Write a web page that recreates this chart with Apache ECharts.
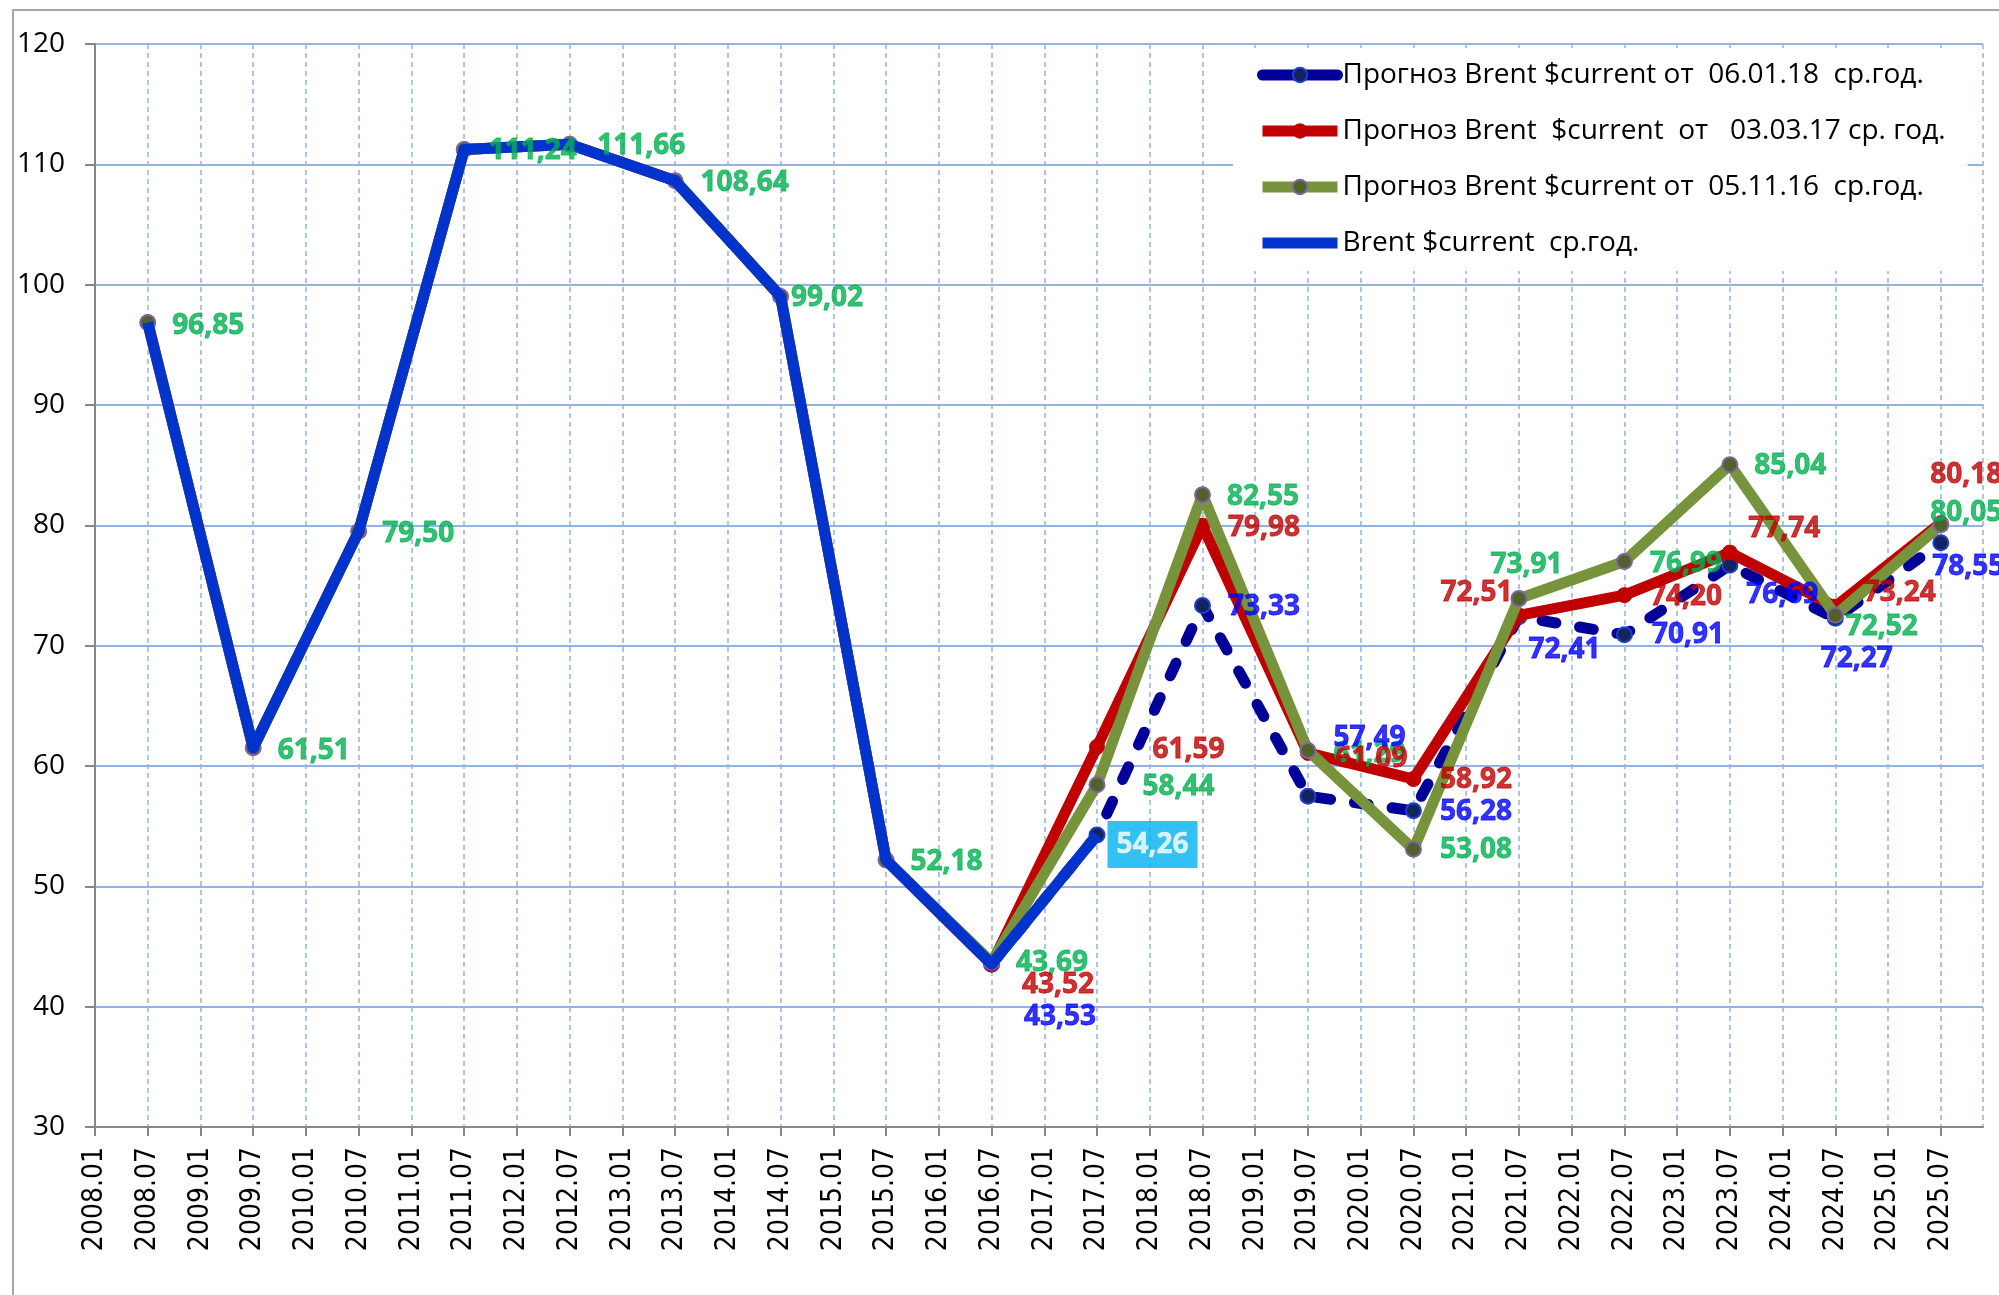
<!DOCTYPE html>
<html>
<head>
<meta charset="utf-8">
<script src="https://cdn.jsdelivr.net/npm/echarts@6/dist/echarts.min.js"></script>
<style>html,body{margin:0;padding:0;background:#fff}#c{width:1999px;height:1295px}</style>
</head>
<body>
<div id="c"></div>
<script>
// ---- tick labels (category ticks along the x axis) ----
const cats = ['2008.01','2008.07','2009.01','2009.07','2010.01','2010.07','2011.01','2011.07','2012.01','2012.07',
  '2013.01','2013.07','2014.01','2014.07','2015.01','2015.07','2016.01','2016.07','2017.01','2017.07',
  '2018.01','2018.07','2019.01','2019.07','2020.01','2020.07','2021.01','2021.07','2022.01','2022.07',
  '2023.01','2023.07','2024.01','2024.07','2025.01','2025.07'];
// dates of the yearly average points
const pointDates = ['2008.07','2009.07','2010.07','2011.07','2012.07','2013.07','2014.07','2015.07','2016.07',
  '2017.07','2018.07','2019.07','2020.07','2021.07','2022.07','2023.07','2024.07','2025.07'];
// ---- values ----
const history = [96.85, 61.51, 79.50, 111.24, 111.66, 108.64, 99.02, 52.18];          // 2008..2015
const actualRecent = [43.53, 54.26];                                                   // 2016, 2017
const fc180106 = [43.53, 54.26, 73.33, 57.49, 56.28, 72.41, 70.91, 76.69, 72.27, 78.55]; // 2016..2025
const fc170303 = [43.52, 61.59, 79.98, 61.09, 58.92, 72.51, 74.20, 77.74, 73.24, 80.18];
const fc161105 = [43.69, 58.44, 82.55, 61.29, 53.08, 73.91, 76.99, 85.04, 72.52, 80.05];
const yTicks = {min: 30, max: 120, step: 10};

const names = ['Прогноз Brent $current от  06.01.18  ср.год.',
  'Прогноз Brent  $current  от   03.03.17 ср. год.',
  'Прогноз Brent $current от  05.11.16  ср.год.',
  'Brent $current  ср.год.'];

// label placement (styling only): [dx, dy] of left edge / vertical centre; 'L' = right edge
const posOlive = {0:[24,3],1:[24,3],2:[23,3],3:[24,2],4:[27,2],5:[25,2],6:[10,2],7:[24,2],8:[24,1],9:[45,2],
  10:[24,2],11:[25,4],12:[26,1],13:[-29,-34],14:[25,2],15:[24,1],16:[10,12],17:[-11,-12]};
const posRed = {8:[30,21],9:[55,3],10:[25,2],11:[27,6],12:[26,1],13:[-6,-22,'L'],14:[25,2],15:[18,-23],16:[28,-14],17:[-11,-48]};
const posNavy = {8:[32,53],9:[10,9.5,'box'],10:[25,1],11:[25,-58],12:[26,1],13:[9,33],14:[27,0],15:[16,30],16:[-15,41],17:[-9,24]};

const pad = (n) => Array(n).fill(null);
const actual = history.concat(actualRecent).concat(pad(8));
const navy = pad(8).concat(fc180106);
const red = history.concat(fc170303);
const olive = history.concat(fc161105);

function toXY(arr) {
  const out = [];
  arr.forEach((v, k) => { if (v != null) out.push([cats.indexOf(pointDates[k]), v]); });
  return out;
}
const fmt = (v) => v.toFixed(2).replace('.', ',');
const LABEL_FONT = {fontFamily: 'Open Sans', fontWeight: 'bold', fontSize: 28};

function labelSeries(arr, pos, color) {
  const data = [];
  arr.forEach((v, k) => {
    if (v == null || !pos[k]) return;
    const p = pos[k];
    const lab = Object.assign({show: true, distance: 0, color: color, formatter: fmt(v),
      textBorderColor: color, textBorderWidth: 0.8}, LABEL_FONT);
    lab.position = p[2] === 'L' ? 'left' : 'right';
    lab.offset = [p[0], p[1]];
    if (p[2] === 'box') {
      lab.backgroundColor = '#00B0F0'; lab.color = '#fff'; lab.textBorderColor = '#fff';
      lab.textBorderWidth = 0.5; lab.padding = [10, 9, 9, 9];
    }
    data.push({value: [cats.indexOf(pointDates[k]), v], label: lab});
  });
  return {type: 'scatter', z: 10, silent: true, symbol: 'circle', symbolSize: 1,
    itemStyle: {color: 'rgba(0,0,0,0)'}, data: data};
}

const GRID = '#95B3E0';
const AXIS = '#878787';
const oliveMarker = {color: '#4F6228', borderColor: '#8064A2', borderWidth: 2};
const redMarker = {color: '#C00000', borderColor: '#C00000', borderWidth: 1};
const navyMarker = {color: '#13235E', borderColor: '#1F3FCC', borderWidth: 2};
const LW = 11;

const chart = echarts.init(document.getElementById('c'), null, {renderer: 'canvas'});
chart.setOption({
  animation: false,
  backgroundColor: '#fff',
  graphic: [{type: 'polyline', silent: true, z: 0,
    shape: {points: [[13, 1310], [13, 10], [2010, 10]]}, style: {stroke: '#A6A6A6', lineWidth: 2, fill: null}}],
  grid: {left: 95, right: 16, top: 44, bottom: 168, containLabel: false},
  xAxis: {
    type: 'value', min: 0, max: 35.8, interval: 1,
    axisLine: {show: true, lineStyle: {color: AXIS, width: 2}},
    axisTick: {show: true, inside: false, length: 9, lineStyle: {color: AXIS, width: 2}},
    axisLabel: {rotate: 90, margin: 20, showMaxLabel: false, color: '#000',
      fontFamily: 'DejaVu Sans Condensed, DejaVu Sans', fontSize: 28,
      formatter: (v) => (cats[v] !== undefined ? cats[v] : '')},
    splitLine: {show: true, lineStyle: {color: GRID, width: 1.5, type: [5, 4]}}
  },
  yAxis: {
    type: 'value', min: yTicks.min, max: yTicks.max, interval: yTicks.step,
    axisLine: {show: true, lineStyle: {color: AXIS, width: 2}},
    axisTick: {show: true, length: 10, lineStyle: {color: AXIS, width: 2}},
    axisLabel: {margin: 30, color: '#000', fontFamily: 'Open Sans', fontSize: 28},
    splitLine: {show: true, lineStyle: {color: GRID, width: 2}}
  },
  legend: {
    orient: 'vertical', left: 1233, top: 48, padding: [10, 22, 11, 24],
    backgroundColor: '#fff', itemWidth: 75, itemHeight: 18, itemGap: 22, selectedMode: false,
    textStyle: {fontFamily: 'Open Sans', fontSize: 28, lineHeight: 34, color: '#000'},
    data: [
      {name: names[0], lineStyle: {width: LW, type: 'solid', color: '#000099'}, itemStyle: navyMarker},
      {name: names[1], lineStyle: {width: LW, type: 'solid', color: '#C00000'}, itemStyle: redMarker},
      {name: names[2], lineStyle: {width: LW, type: 'solid', color: '#77933C'}, itemStyle: oliveMarker},
      {name: names[3], lineStyle: {width: LW, type: 'solid', color: '#0033CC'}, itemStyle: {opacity: 0}}
    ]
  },
  series: [
    {name: names[0], type: 'line', z: 2, data: toXY(navy), symbol: 'circle', symbolSize: 15,
      lineStyle: {color: '#000099', width: LW, type: [14, 24], cap: 'round', join: 'round'},
      itemStyle: navyMarker},
    {name: names[1], type: 'line', z: 3, data: toXY(red), symbol: 'circle', symbolSize: 15,
      lineStyle: {color: '#C00000', width: LW, join: 'round'}, itemStyle: redMarker},
    {name: names[2], type: 'line', z: 4, data: toXY(olive), symbol: 'circle', symbolSize: 15,
      lineStyle: {color: '#77933C', width: LW, join: 'round'}, itemStyle: oliveMarker},
    {name: names[3], type: 'line', z: 5, data: toXY(actual), symbol: 'none', showSymbol: false,
      lineStyle: {color: '#0033CC', width: LW, join: 'round'}, itemStyle: {color: '#0033CC'}},
    labelSeries(olive, posOlive, '#00B050'),
    labelSeries(red, posRed, '#C00000'),
    labelSeries(navy, posNavy, '#0000FF')
  ]
});
</script>
</body>
</html>
